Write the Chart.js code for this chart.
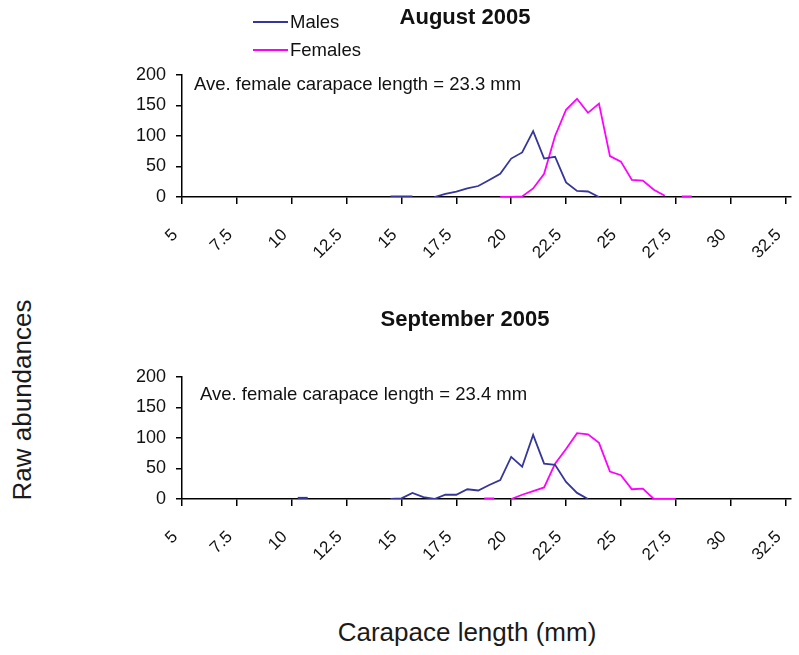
<!DOCTYPE html>
<html>
<head>
<meta charset="utf-8">
<title>Carapace length frequencies, 2005</title>
<script src="https://cdn.jsdelivr.net/npm/chart.js@4.4.1/dist/chart.umd.min.js"></script>
<style>
  html, body { margin: 0; padding: 0; background: #fff; }
  body {
    width: 799px; height: 655px; position: relative; overflow: hidden;
    font-family: "Liberation Sans", Arial, Helvetica, sans-serif; color: #111;
  }
  .panel { position: absolute; left: 131px; width: 668px; height: 275px; }
  #panel-aug { top: 0; }
  #panel-sep { top: 302px; }
  #legend { position: absolute; left: 253px; top: 8px; font-size: 18.5px; z-index: 2; }
  #legend .item { display: flex; align-items: center; height: 28px; }
  #legend .swatch { display: inline-block; width: 35px; height: 2px; margin-right: 2px; }
  .axis-title { position: absolute; font-size: 26px; white-space: nowrap; color: #1a1a1a; }
  #y-title { left: 22px; top: 400px; transform: translate(-50%, -50%) rotate(-90deg); }
  #x-title { left: 467px; top: 632px; transform: translate(-50%, -50%); }
</style>
</head>
<body>
<div id="panel-aug" class="panel"><canvas id="chart-aug"></canvas></div>
<div id="panel-sep" class="panel"><canvas id="chart-sep"></canvas></div>
<div id="legend"></div>
<div id="y-title" class="axis-title">Raw abundances</div>
<div id="x-title" class="axis-title">Carapace length (mm)</div>

<script>
// 0.5 mm length classes (mm)
const lengthBins = [
  10.5, 11, 11.5, 12, 12.5, 13, 13.5, 14, 14.5, 15, 15.5, 16,
  16.5, 17, 17.5, 18, 18.5, 19, 19.5, 20, 20.5, 21, 21.5, 22,
  22.5, 23, 23.5, 24, 24.5, 25, 25.5, 26, 26.5, 27, 27.5, 28
];

// counts per class, null = no sample in that class
const augMales = [
  null, null, null, null, null, null, null, null, 1, 1, 1, null,
  0, 5, 9, 14, 18, 28, 38, 63, 73, 108, 63, 66,
  24, 10, 9, 0, null, null, null, null, null, null, null, null
];
const augFemales = [
  null, null, null, null, null, null, null, null, null, null, null, null,
  null, null, null, null, null, null, 0, 0, 1, 14, 38, 100,
  143, 161, 138, 153, 67, 58, 28, 27, 12, 2, null, 0
];
const sepMales = [
  1, null, null, null, null, null, null, null, 0, 1, 10, 3,
  0, 7, 7, 16, 14, 23, 31, 69, 53, 105, 58, 56,
  28, 10, 0, null, null, null, null, null, null, null, null, null
];
const sepFemales = [
  null, null, null, null, null, null, null, null, null, null, null, null,
  null, null, null, null, null, 0, null, 0, 7, 13, 19, 58,
  82, 108, 106, 92, 45, 39, 16, 17, 0, 0, 0, null
];

const lengthTicks = [5, 7.5, 10, 12.5, 15, 17.5, 20, 22.5, 25, 27.5, 30, 32.5];
const abundanceTicks = [0, 50, 100, 150, 200];

const MALE_COLOR = '#35359a';
const FEMALE_COLOR = '#ff00ff';

Chart.defaults.font.family = '"Liberation Sans", Arial, Helvetica, sans-serif';
Chart.defaults.color = '#111';
Chart.defaults.animation = false;

// a lone value has no segment to draw, so show it as a short dash
function isLonePoint(ctx) {
  const data = ctx.dataset.data;
  const has = j => data[j] !== undefined && data[j].y !== null;
  return has(ctx.dataIndex) && !has(ctx.dataIndex - 1) && !has(ctx.dataIndex + 1);
}

function series(label, values, color) {
  return {
    label,
    data: lengthBins.map((x, i) => ({ x, y: values[i] })),
    borderColor: color,
    backgroundColor: color,
    borderWidth: 1.8,
    tension: 0,
    spanGaps: false,
    pointStyle: 'line',
    pointRadius: ctx => isLonePoint(ctx) ? 5 : 0,
    pointHoverRadius: 0,
    pointBorderWidth: 3,
    pointBorderColor: color
  };
}

const noteLabel = {
  id: 'noteLabel',
  afterDraw(chart, args, opts) {
    const { ctx, chartArea } = chart;
    ctx.save();
    ctx.font = '18.5px "Liberation Sans", Arial, sans-serif';
    ctx.fillStyle = '#111';
    ctx.textBaseline = 'middle';
    ctx.fillText(opts.text, chartArea.left + opts.dx, chartArea.top + opts.dy);
    ctx.restore();
  }
};

function buildChart(canvasId, title, males, females, note) {
  return new Chart(document.getElementById(canvasId), {
    type: 'line',
    data: {
      datasets: [
        series('Males', males, MALE_COLOR),
        series('Females', females, FEMALE_COLOR)
      ]
    },
    plugins: [noteLabel],
    options: {
      responsive: true,
      maintainAspectRatio: false,
      layout: { padding: 0 },
      plugins: {
        legend: { display: false },
        tooltip: { enabled: false },
        title: {
          display: true,
          text: title,
          color: '#111',
          font: { size: 22, weight: 'bold', lineHeight: 1.2 },
          padding: { top: 5, bottom: 43.6 }
        },
        noteLabel: note
      },
      scales: {
        x: {
          type: 'linear',
          min: 5,
          max: 32.75,
          afterBuildTicks: scale => { scale.ticks = lengthTicks.map(value => ({ value })); },
          afterFit: scale => {
            scale.height = 78;
            scale.paddingLeft = 0;
            scale.paddingRight = 0;
          },
          ticks: {
            autoSkip: false,
            minRotation: 45,
            maxRotation: 45,
            padding: 21,
            labelOffset: -7,
            font: { size: 17 },
            color: '#111',
            callback: value => String(value)
          },
          grid: { drawOnChartArea: false, drawTicks: true, tickLength: 7, color: '#000', lineWidth: 1.5 },
          border: { color: '#000', width: 1.5 }
        },
        y: {
          min: 0,
          max: 200,
          afterBuildTicks: scale => { scale.ticks = abundanceTicks.map(value => ({ value })); },
          afterFit: scale => { scale.width = 51; },
          ticks: { padding: 10, font: { size: 18 }, color: '#111' },
          grid: { drawOnChartArea: false, drawTicks: true, tickLength: 6, color: '#000', lineWidth: 1.5 },
          border: { color: '#000', width: 1.5 }
        }
      }
    }
  });
}

const augChart = buildChart('chart-aug', 'August 2005', augMales, augFemales,
  { text: 'Ave. female carapace length = 23.3 mm', dx: 12, dy: 10 });
buildChart('chart-sep', 'September 2005', sepMales, sepFemales,
  { text: 'Ave. female carapace length = 23.4 mm', dx: 18, dy: 18 });

// legend sits beside the August title, built from that chart's series
const legendEl = document.getElementById('legend');
augChart.data.datasets.forEach(ds => {
  const item = document.createElement('div');
  item.className = 'item';
  const swatch = document.createElement('span');
  swatch.className = 'swatch';
  swatch.style.background = ds.borderColor;
  const text = document.createElement('span');
  text.textContent = ds.label;
  item.append(swatch, text);
  legendEl.appendChild(item);
});
</script>
</body>
</html>
